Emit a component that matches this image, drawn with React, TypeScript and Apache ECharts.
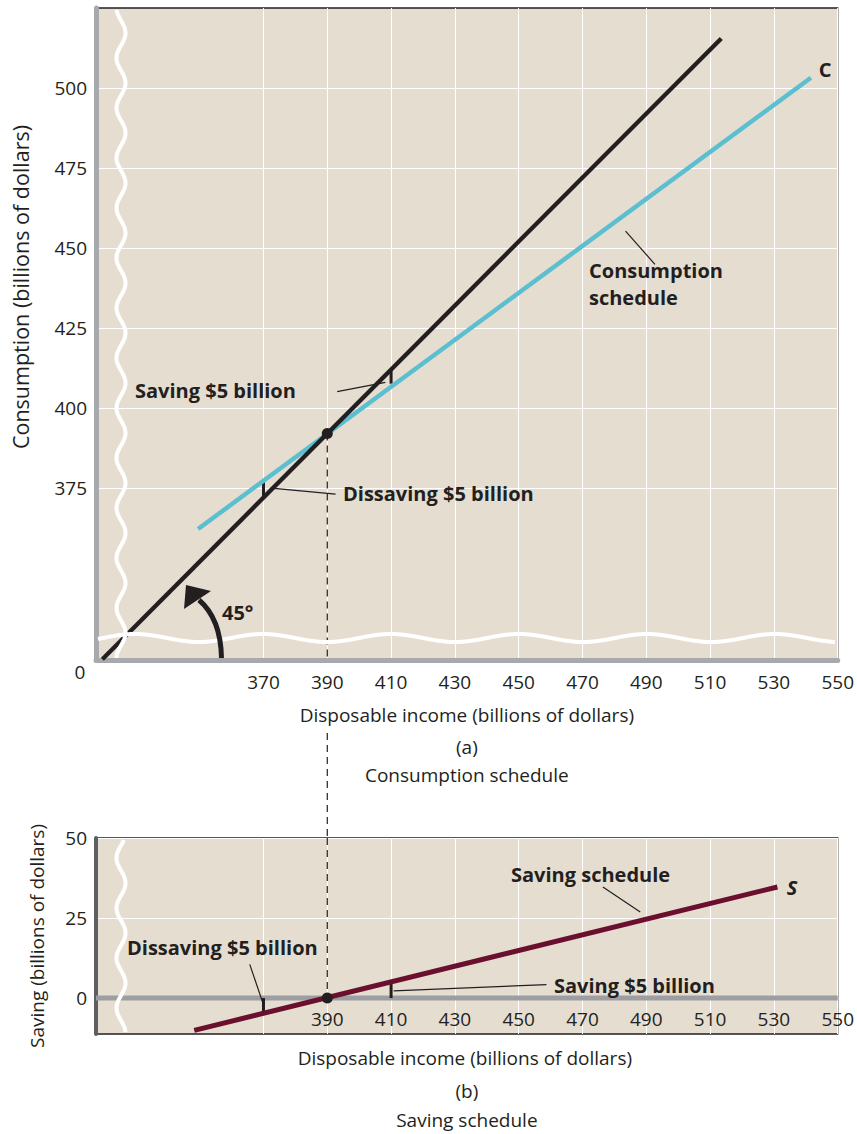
import React, { useEffect, useRef } from "react";
import * as echarts from "echarts";

// ---- data (billions of dollars) ----
const incomeTicks = [370, 390, 410, 430, 450, 470, 490, 510, 530, 550];
const consumptionTicks = [375, 400, 425, 450, 475, 500];
const savingTicks = [0, 25, 50];
const savingIncomeLabels = [390, 410, 430, 450, 470, 490, 510, 530, 550];
const savingGridTicks = [370, 390, 410, 430, 450, 470, 490, 510, 530, 550];

const incomeRange = [317.5, 550];
const consumptionRange = [321.25, 525];
const savingRange = [-11.25, 50];

const line45 = [[319.5, 321.5], [513.5, 515.5]];
const consumptionLine = [[349.5, 362.2], [541.6, 503.2]];
const savingLine = [[348.3, -10.1], [531.1, 34.7]];
const zeroSaving = [[317.5, 0], [550, 0]];
const breakEvenC = [390, 392];
const breakEvenS = [390, 0];

const topBrackets = [
  [[410, 411.8], [410, 407.6]],
  [[370, 377.0], [370, 372.0]],
];
const topLeaders = [
  [[393.1, 405.1], [408.2, 408.0]],
  [[373.3, 374.9], [392.6, 373.1]],
  [[483.5, 455.3], [492.7, 444.9]],
];
const bottomBrackets = [
  [[410, 5], [410, 0]],
  [[370, 0], [370, -5]],
];
const bottomLeaders = [
  [[476.4, 34.7], [488.1, 26.9]],
  [[410.8, 2.2], [458.7, 4.2]],
  [[365.7, 10.5], [369.7, -1.25]],
];

const FONT = "'Open Sans', Lato, sans-serif";
const INK = "#231f20";
const BG = "#e6ddd1";
const CYAN = "#5bbfd0";
const MAROON = "#6b0f2f";

function seg(data: number[][], g: number, color: string, width: number, z = 3, type: any = "solid") {
  return {
    type: "line",
    xAxisIndex: g,
    yAxisIndex: g,
    data,
    symbol: "none",
    silent: true,
    z,
    lineStyle: { color, width, type, cap: "butt" },
  };
}

function wave(
  axis: "x" | "y",
  center: number,
  from: number,
  to: number,
  amp: number,
  period: number,
  phase0: number
) {
  const pts: number[][] = [];
  for (let t = from; t <= to; t += 1) {
    const off = amp * Math.sin((2 * Math.PI * (t - phase0)) / period);
    pts.push(axis === "y" ? [center + off, t] : [t, center + off]);
  }
  return {
    type: "polyline",
    z: 50,
    silent: true,
    shape: { points: pts, smooth: 0 },
    style: { stroke: "#ffffff", lineWidth: 4, fill: "none" },
  };
}

function txt(text: string, x: number, y: number, opts: any = {}) {
  return {
    type: "text",
    x,
    y,
    z: 60,
    silent: true,
    rotation: opts.rotation || 0,
    style: {
      text,
      fill: INK,
      font: opts.font || `19px ${FONT}`,
      align: opts.align || "left",
      verticalAlign: "middle",
      lineHeight: opts.lineHeight,
    },
  };
}

const App = () => {
  const ref = useRef<HTMLDivElement>(null);
  useEffect(() => {
    document.body.style.margin = "0";
    const chart = echarts.init(ref.current!, null, { renderer: "svg" });
    const axisLabel = (vals: number[], margin: number, inside = false) => ({
      customValues: vals,
      margin,
      inside,
      fontSize: 19,
      color: INK,
      fontFamily: FONT,
    });
    const option: any = {
      animation: false,
      grid: [
        { left: 96, right: 17, top: 8, height: 652, show: true, backgroundColor: BG, borderColor: INK, borderWidth: 1.3 },
        { left: 96, right: 17, top: 838, height: 196, show: true, backgroundColor: BG, borderColor: INK, borderWidth: 1.3 },
      ],
      xAxis: [
        {
          gridIndex: 0, type: "value", min: incomeRange[0], max: incomeRange[1],
          axisLine: { show: true, onZero: false, lineStyle: { color: "#a8a9ad", width: 5 } },
          axisTick: { show: false, customValues: incomeTicks },
          axisLabel: axisLabel(incomeTicks, 12),
          splitLine: { show: true, lineStyle: { color: "#ffffff", width: 1 } },
        },
        {
          gridIndex: 1, type: "value", min: incomeRange[0], max: incomeRange[1],
          axisLine: { show: false, onZero: false },
          axisTick: { show: false, customValues: savingGridTicks },
          axisLabel: axisLabel(savingIncomeLabels, 6, true),
          splitLine: { show: true, lineStyle: { color: "#ffffff", width: 1 } },
        },
      ],
      yAxis: [
        {
          gridIndex: 0, type: "value", min: consumptionRange[0], max: consumptionRange[1],
          axisLine: { show: true, onZero: false, lineStyle: { color: "#a8a9ad", width: 5 } },
          axisTick: { show: false, customValues: consumptionTicks },
          axisLabel: axisLabel(consumptionTicks, 9),
          splitLine: { show: true, lineStyle: { color: "#ffffff", width: 1 } },
        },
        {
          gridIndex: 1, type: "value", min: savingRange[0], max: savingRange[1],
          axisLine: { show: true, onZero: false, lineStyle: { color: "#5e5f62", width: 4 } },
          axisTick: { show: false, customValues: savingTicks },
          axisLabel: axisLabel(savingTicks, 9),
          splitLine: { show: true, lineStyle: { color: "#ffffff", width: 1 } },
        },
      ],
      series: [
        seg([breakEvenC, [390, consumptionRange[0]]], 0, INK, 1.2, 2, [7, 5]),
        ...topBrackets.map((d) => seg(d, 0, INK, 3, 2)),
        ...topLeaders.map((d) => seg(d, 0, INK, 1.2, 2)),
        seg(consumptionLine, 0, CYAN, 4.5, 3),
        seg(line45, 0, INK, 4.3, 4),
        {
          type: "scatter", xAxisIndex: 0, yAxisIndex: 0, data: [breakEvenC],
          symbolSize: 11, itemStyle: { color: INK, opacity: 1 }, z: 6, silent: true,
        },
        seg(zeroSaving, 1, "#9d9ea2", 5, 2),
        seg([[390, savingRange[1]], breakEvenS], 1, INK, 1.2, 2, [7, 5]),
        ...bottomBrackets.map((d) => seg(d, 1, INK, 3, 2)),
        ...bottomLeaders.map((d) => seg(d, 1, INK, 1.2, 2)),
        seg(savingLine, 1, MAROON, 5, 4),
        {
          type: "scatter", xAxisIndex: 1, yAxisIndex: 1, data: [breakEvenS],
          symbolSize: 11, itemStyle: { color: INK, opacity: 1 }, z: 6, silent: true,
        },
      ],
    };
    chart.setOption(option);

    const p0 = (v: number[]) => chart.convertToPixel({ gridIndex: 0 }, v) as number[];
    const p1 = (v: number[]) => chart.convertToPixel({ gridIndex: 1 }, v) as number[];
    const topL = p0([incomeRange[0], consumptionRange[1]]);
    const topR = p0([incomeRange[1], consumptionRange[0]]);
    const botL = p1([incomeRange[0], savingRange[1]]);
    const botR = p1([incomeRange[1], savingRange[0]]);
    const bx = p0([390, 0])[0];
    const midX = (topL[0] + topR[0]) / 2;
    const B = `bold 20px ${FONT}`;
    const BI = `italic bold 20px ${FONT}`;

    const graphic: any[] = [
      wave("y", topL[0] + 25, topL[1] + 2, topR[1] - 2, 4.5, 50, 70.5),
      wave("x", topR[1] - 22, topL[0] + 2, topR[0] - 2, 4, 128, 295),
      wave("y", topL[0] + 25, botL[1] + 2, botR[1] - 2, 4.5, 50, 70.5),
      // 45 degree arrow
      {
        type: "bezierCurve", z: 55, silent: true,
        shape: { x1: 221.5, y1: 658, cpx1: 221, cpy1: 632, cpx2: 213, cpy2: 612, x2: 199, y2: 600 },
        style: { stroke: INK, lineWidth: 5, fill: "none" },
      },
      {
        type: "polygon", z: 56, silent: true,
        shape: { points: [[186, 585], [184, 609], [211, 591]] },
        style: { fill: INK },
      },
      // dashed connector between panels
      {
        type: "line", z: 5, silent: true,
        shape: { x1: bx, y1: 733, x2: bx, y2: botL[1] },
        style: { stroke: INK, lineWidth: 1.2, lineDash: [7, 5] },
      },
      txt("0", 80, 672, { align: "center" }),
      txt("Consumption (billions of dollars)", 20, 287, { align: "center", rotation: Math.PI / 2, font: `21.5px ${FONT}` }),
      txt("Disposable income (billions of dollars)", midX, 715, { align: "center" }),
      txt("(a)", midX, 747, { align: "center" }),
      txt("Consumption schedule", midX, 775, { align: "center" }),
      txt("Saving (billions of dollars)", 37, 936, { align: "center", rotation: Math.PI / 2 }),
      txt("Disposable income (billions of dollars)", midX - 2, 1058, { align: "center" }),
      txt("(b)", midX, 1091, { align: "center" }),
      txt("Saving schedule", midX, 1120, { align: "center" }),
      txt("Saving $5 billion", 135, 390, { font: B }),
      txt("Dissaving $5 billion", 343, 493, { font: B }),
      txt("Consumption\nschedule", 589, 284, { font: B, lineHeight: 27 }),
      txt("C", 825, 69, { font: B, align: "center" }),
      txt("45°", 222, 612, { font: B }),
      txt("Saving schedule", 511, 874, { font: B }),
      txt("Dissaving $5 billion", 127, 947, { font: B }),
      txt("Saving $5 billion", 554, 985, { font: B }),
      txt("S", 792, 887, { font: BI, align: "center" }),
    ];
    chart.setOption({ graphic });
    return () => chart.dispose();
  }, []);
  return <div ref={ref} style={{ width: 857, height: 1134 }} />;
};

export default App;
